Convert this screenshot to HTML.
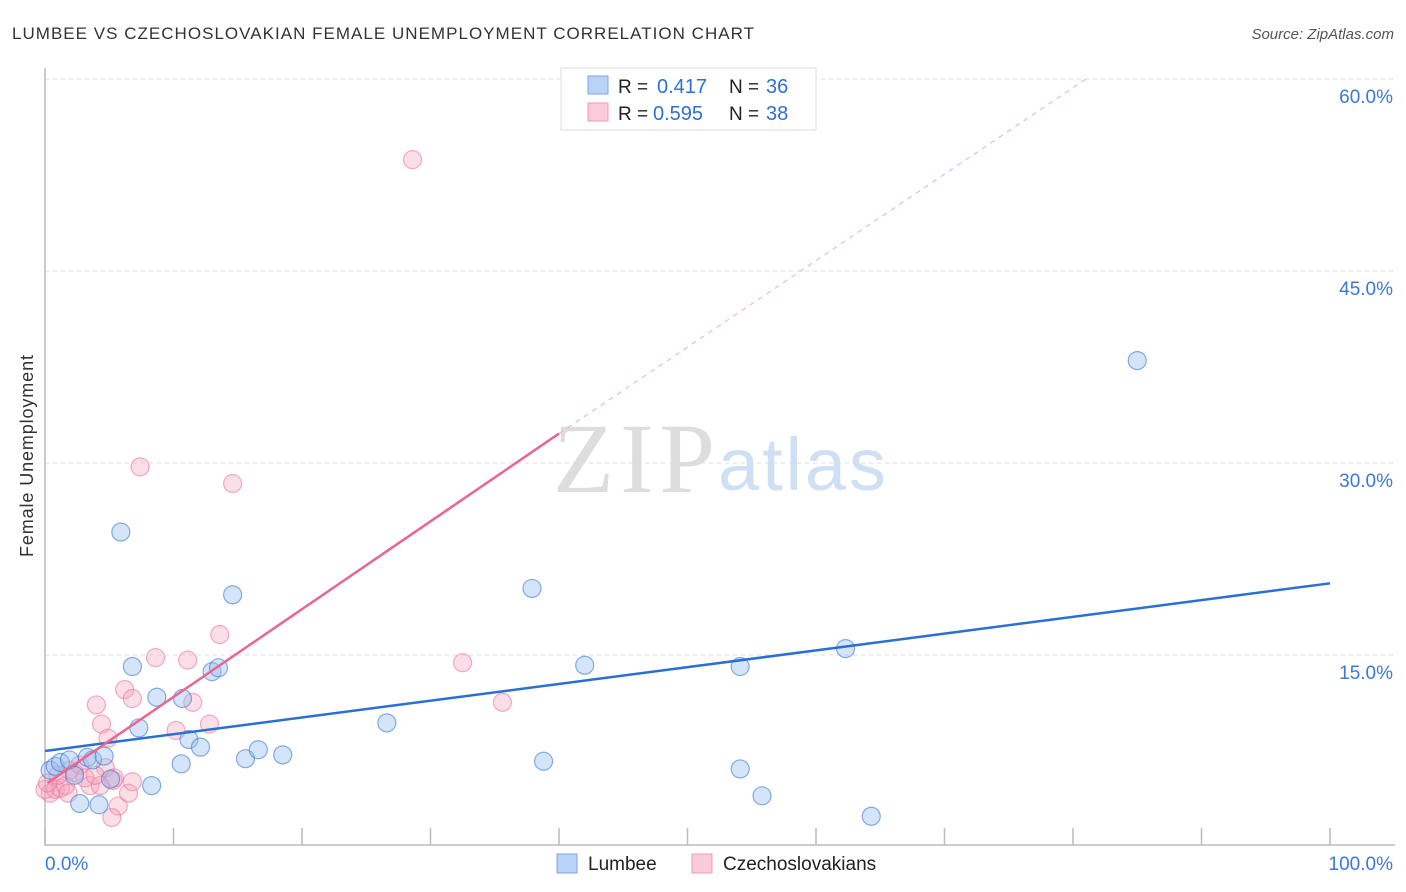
<!DOCTYPE html>
<html><head><meta charset="utf-8"><style>
body{margin:0;background:#fff;font-family:"Liberation Sans",sans-serif}
</style></head><body>
<svg id="chart" width="1406" height="892" xmlns="http://www.w3.org/2000/svg" style="display:block">
<text x="12" y="39" font-size="17" fill="#333" textLength="742" lengthAdjust="spacing">LUMBEE VS CZECHOSLOVAKIAN FEMALE UNEMPLOYMENT CORRELATION CHART</text>
<text x="1394" y="39" font-size="15" fill="#555" font-style="italic" text-anchor="end">Source: ZipAtlas.com</text>
<text x="553" y="492" font-size="100" font-family="Liberation Serif,serif" fill="#ddd" textLength="162">ZIP</text>
<text x="718" y="490" font-size="74" fill="#cfe0f5" textLength="168">atlas</text>
<text transform="translate(33,456) rotate(-90)" font-size="18" fill="#333" text-anchor="middle" textLength="202">Female Unemployment</text>
<g id="grid"></g><g id="axes"></g><g id="marks"></g>
<g>
<rect x="561" y="68" width="255" height="62" fill="#fff" stroke="#ddd"/>
<rect x="588" y="76" width="20" height="18" fill="#b8d3f7" stroke="#7aa7e6"/>
<rect x="588" y="103" width="20" height="18" fill="#fbcbd9" stroke="#f09ab5"/>
<text x="618" y="93" font-size="19" fill="#222">R =</text>
<text x="657" y="93" font-size="20" fill="#2f6fd3">0.417</text>
<text x="729" y="93" font-size="19" fill="#222">N =</text>
<text x="766" y="93" font-size="20" fill="#2f6fd3">36</text>
<text x="618" y="120" font-size="19" fill="#222">R =</text>
<text x="653" y="120" font-size="20" fill="#2f6fd3">0.595</text>
<text x="729" y="120" font-size="19" fill="#222">N =</text>
<text x="766" y="120" font-size="20" fill="#2f6fd3">38</text>
</g>
<g>
<rect x="557" y="854" width="20" height="19" fill="#b8d3f7" stroke="#7aa7e6"/>
<text x="588" y="870" font-size="19" fill="#222">Lumbee</text>
<rect x="692" y="854" width="20" height="19" fill="#fbcbd9" stroke="#f09ab5"/>
<text x="723" y="870" font-size="19" fill="#222">Czechoslovakians</text>
</g>
</svg>
<script>
const yTicks=[15,30,45,60];
const yTickLabels=["15.0%","30.0%","45.0%","60.0%"];
const xTickLabels=["0.0%","100.0%"];
const lumbeeX=[5.9,14.6,37.9,6.8,8.7,10.7,13.0,13.5,7.3,11.2,12.1,15.6,16.6,18.5,10.6,8.3,2.7,4.2,26.6,38.8,42.0,54.1,62.3,54.1,55.8,64.3,85.0,0.4,0.8,1.2,1.9,3.3,3.7,4.6,5.1,2.3];
const lumbeeY=[24.6,19.7,20.2,14.1,11.7,11.6,13.7,14.0,9.3,8.4,7.8,6.9,7.6,7.2,6.5,4.8,3.4,3.3,9.7,6.7,14.2,14.1,15.5,6.1,4.0,2.4,38.0,6.0,6.3,6.6,6.8,7.0,6.8,7.1,5.3,5.6];
const czX=[28.6,7.4,14.6,13.6,8.6,11.1,6.2,6.8,4.0,11.5,4.4,10.2,12.8,4.9,32.5,35.6,5.3,5.7,5.2,6.5,6.8,3.5,4.3,0.4,0.8,1.2,1.6,1.9,2.3,2.7,3.1,4.7,5.4,0,0.2,1.0,1.8,3.9];
const czY=[53.7,29.7,28.4,16.6,14.8,14.6,12.3,11.6,11.1,11.3,9.6,9.1,9.6,8.5,14.4,11.3,5.2,3.2,2.3,4.2,5.1,4.8,4.8,4.2,4.5,4.6,4.8,6.0,5.8,6.4,5.4,6.2,5.4,4.5,5.0,5.6,4.2,5.6];
const lumbeeTrend=[[0,7.5],[100,20.6]];
const czTrendSolid=[[0.2,5.0],[40,32.3]];
const czTrendDash=[[40,32.3],[81,60]];
const sx=v=>45+v*12.85, sy=v=>847-v*12.8;
const NS="http://www.w3.org/2000/svg";
function mk(p,t,a){const e=document.createElementNS(NS,t);for(const k in a)e.setAttribute(k,a[k]);document.getElementById(p).appendChild(e);return e;}
yTicks.forEach((v,i)=>{
 const l=mk('grid','line',{x1:45,x2:1393,y1:sy(v),y2:sy(v),stroke:'#ddd','stroke-dasharray':'4,4'});
 
 
 const t=mk('grid','text',{x:1393,y:sy(v)+24,'font-size':19,fill:'#3b78d8','text-anchor':'end'});
 t.textContent=yTickLabels[i];
 
 
});
const ax=mk('axes','path',{d:'M45 68V845H1395',stroke:'#bbb',fill:'none','stroke-width':1.5});


for(let i=0;i<=10;i++){
 const l=mk('axes','line',{x1:sx(i*10),x2:sx(i*10),y1:828,y2:845,stroke:'#bbb','stroke-width':1.5});
 
 
}
[[0,'start',45],[100,'end',1393]].forEach((d,i)=>{
 const t=mk('axes','text',{x:d[2],y:870,'font-size':19,fill:'#3b78d8','text-anchor':d[1]});
 t.textContent=xTickLabels[i];
 
 
});
czX.forEach((x,i)=>{
 const c=mk('marks','circle',{cx:sx(x),cy:sy(czY[i]),r:9,fill:'rgba(246,160,185,0.35)',stroke:'rgba(235,120,155,0.6)','stroke-width':1.2});
 
 
});
lumbeeX.forEach((x,i)=>{
 const c=mk('marks','circle',{cx:sx(x),cy:sy(lumbeeY[i]),r:9,fill:'rgba(150,190,240,0.4)',stroke:'rgba(60,120,210,0.6)','stroke-width':1.2});
 
 
});
const tl=(p,col,w,dash,name)=>{const l=mk('marks','line',{x1:sx(p[0][0]),y1:sy(p[0][1]),x2:sx(p[1][0]),y2:sy(p[1][1]),stroke:col,'stroke-width':w,'stroke-dasharray':dash});
 
 };
tl(lumbeeTrend,'#2a6fd6',2.5,'none','lumbee-trendline');
tl(czTrendSolid,'#e8668f',2.5,'none','czechoslovakian-trendline');
tl(czTrendDash,'#eeaabf',1,'5,5','czechoslovakian-trendline-extension');
</script>
</body></html>
